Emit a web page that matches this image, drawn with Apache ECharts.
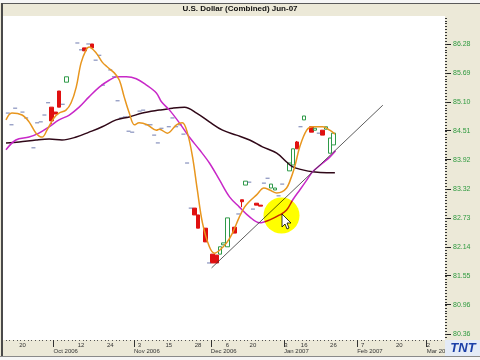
<!DOCTYPE html>
<html>
<head>
<meta charset="utf-8">
<script src="https://cdn.jsdelivr.net/npm/echarts@6/dist/echarts.min.js"></script>
<style>html,body{margin:0;padding:0;background:#fff}#c{width:480px;height:360px}</style>
</head>
<body>
<div id="c"></div>
<script>
// ---- data (trading-day slots) ----
const slotCount = 120;
const dayTickSlots = [4, 20, 28, 36, 44, 52, 60, 67, 76, 81, 89, 97, 107, 115];
const dayTickLabels = ['20', '12', '24', '3', '15', '28', '6', '20', '3', '16', '26', '7', '20', '2'];
const monthStartSlots = [13, 35, 56, 76, 96, 115];
const monthLabels = ['Oct 2006', 'Nov 2006', 'Dec 2006', 'Jan 2007', 'Feb 2007', 'Mar 2007'];
const yTickLabels = [80.36, 80.96, 81.55, 82.14, 82.73, 83.32, 83.92, 84.51, 85.10, 85.69, 86.28];

const candleSlots = [12, 13, 14, 16, 21, 23, 51, 52, 54, 56, 57, 58, 59, 60, 62, 64, 65, 68, 69, 72, 73, 77, 78, 79, 81, 83, 84, 86, 87, 88, 89];
const candleOpen  = [84.99, 84.89, 85.32, 85.50, 86.20, 86.28, 82.93, 82.79, 82.52, 81.99, 81.97, 81.99, 82.18, 82.14, 82.54, 83.10, 83.40, 83.03, 82.99, 83.34, 83.30, 83.69, 83.81, 84.28, 84.73, 84.59, 84.52, 84.52, 84.54, 84.05, 84.22];
const candleClose = [84.71, 84.85, 84.99, 85.61, 86.14, 86.20, 82.79, 82.52, 82.24, 81.81, 81.81, 82.14, 82.22, 82.73, 82.42, 83.06, 83.48, 82.99, 82.97, 83.42, 83.34, 83.85, 84.14, 84.14, 84.81, 84.48, 84.56, 84.42, 84.59, 84.36, 84.46];
const candleLow   = [84.65, 84.85, 84.99, 85.50, 86.14, 86.20, 82.79, 82.52, 82.24, 81.81, 81.81, 81.99, 82.18, 82.14, 82.42, 82.95, 83.40, 82.99, 82.97, 83.34, 83.30, 83.69, 83.81, 84.14, 84.73, 84.48, 84.52, 84.42, 84.54, 84.05, 84.22];
const candleHigh  = [84.99, 84.89, 85.32, 85.61, 86.20, 86.28, 82.93, 82.79, 82.52, 81.99, 81.97, 82.14, 82.22, 82.73, 82.54, 83.10, 83.48, 83.03, 82.99, 83.42, 83.34, 83.85, 84.14, 84.30, 84.81, 84.59, 84.56, 84.52, 84.59, 84.36, 84.46];

const dojiSlots  = [0, 1, 2, 4, 5, 7, 8, 9, 10, 11, 15, 19, 20, 22, 24, 25, 26, 28, 29, 30, 31, 32, 33, 34, 36, 37, 38, 39, 40, 41, 42, 44, 45, 46, 47, 48, 49, 50, 55, 63, 66, 67, 70, 71, 74, 75, 80, 85];
const dojiValues = [84.87, 84.63, 84.97, 84.89, 84.77, 84.16, 84.67, 84.69, 84.83, 85.08, 85.05, 86.30, 86.16, 86.28, 85.95, 86.05, 85.44, 85.75, 85.61, 85.12, 84.77, 84.79, 84.50, 84.48, 84.91, 84.93, 84.63, 84.63, 84.42, 84.26, 84.56, 84.59, 84.77, 84.59, 84.63, 84.44, 83.85, 82.93, 81.81, 82.81, 83.46, 82.91, 83.44, 83.54, 83.18, 83.42, 84.59, 84.46];

const fastSlots  = [-0.5, 1.1, 3.9, 5.8, 7.7, 9.4, 10.7, 12.6, 14.0, 15.9, 17.3, 18.7, 20.0, 21.4, 22.2, 24.2, 25.8, 27.2, 29.1, 30.5, 31.8, 33.2, 34.6, 35.9, 38.1, 40.6, 41.4, 43.6, 46.1, 47.7, 49.1, 50.5, 51.8, 53.2, 55.1, 56.5, 57.9, 59.8, 61.4, 63.3, 64.7, 66.1, 68.0, 70.0, 71.6, 73.5, 74.9, 76.2, 77.0, 78.4, 79.8, 81.7, 83.3, 86.1, 88.0, 89.4];
const fastValues = [84.73, 84.87, 84.83, 84.69, 84.46, 84.38, 84.52, 84.77, 84.87, 84.93, 85.08, 85.40, 85.89, 86.16, 86.22, 86.09, 85.91, 85.81, 85.69, 85.54, 85.20, 84.87, 84.63, 84.67, 84.63, 84.52, 84.54, 84.46, 84.63, 84.67, 84.46, 83.97, 83.30, 82.63, 82.14, 82.01, 82.07, 82.22, 82.42, 82.75, 82.95, 83.07, 83.20, 83.34, 83.30, 83.24, 83.26, 83.34, 83.46, 83.77, 84.18, 84.52, 84.59, 84.59, 84.52, 84.44];

const midSlots  = [-0.5, 2.2, 5.8, 8.5, 11.3, 14.0, 16.8, 19.5, 22.2, 25.0, 27.7, 29.9, 32.4, 35.1, 37.9, 40.6, 42.0, 44.2, 46.9, 49.6, 52.4, 55.1, 57.9, 60.6, 63.3, 66.1, 68.8, 71.6, 74.3, 76.2, 77.9, 79.8, 81.7, 83.3, 86.1, 88.0, 89.6];
const midValues = [84.12, 84.32, 84.38, 84.46, 84.59, 84.73, 84.83, 84.99, 85.20, 85.40, 85.54, 85.61, 85.61, 85.57, 85.44, 85.28, 85.10, 84.93, 84.67, 84.38, 84.12, 83.85, 83.50, 83.16, 82.95, 82.75, 82.63, 82.69, 82.79, 82.89, 83.10, 83.30, 83.50, 83.67, 83.85, 83.97, 84.10];

const slowSlots  = [-0.5, 3.1, 7.7, 11.3, 14.8, 18.7, 22.2, 25.8, 29.6, 33.2, 36.8, 41.4, 45.0, 48.3, 51.6, 55.1, 58.7, 62.5, 66.1, 69.6, 73.5, 76.2, 77.9, 80.6, 83.3, 87.2, 89.4];
const slowValues = [84.26, 84.28, 84.32, 84.34, 84.32, 84.38, 84.48, 84.59, 84.73, 84.79, 84.87, 84.93, 84.97, 84.99, 84.87, 84.69, 84.52, 84.42, 84.32, 84.18, 84.05, 83.87, 83.77, 83.71, 83.67, 83.65, 83.65];

const trendSlots  = [55.7, 102.5];
const trendValues = [81.71, 85.03];

// ---- build ----
const yMin = 80.2375, yMax = 86.851;
const minorStep = (yTickLabels[yTickLabels.length - 1] - yTickLabels[0]) / ((yTickLabels.length - 1) * 10);
const minorTicks = [];
for (let v = yTickLabels[0] - 2 * minorStep; v <= yMax; v += minorStep) minorTicks.push(v);

const categories = Array.from({length: slotCount}, (_, i) => String(i));
const candleData = categories.map(() => '-');
candleSlots.forEach((s, i) => { candleData[s] = [candleOpen[i], candleClose[i], candleLow[i], candleHigh[i]]; });
const pair = (xs, ys) => xs.map((x, i) => [x, ys[i]]);
const monthTickPos = monthStartSlots.map(s => s - 0.5);

const font = 'Liberation Sans';
const gridRect = {left: 6, right: 35, top: 16, bottom: 20};
const noZeroLine = {show: false, onZero: false};

const chart = echarts.init(document.getElementById('c'), null, {renderer: 'canvas'});
chart.setOption({
  animation: false,
  backgroundColor: '#ECE9D8',
  title: {
    text: 'U.S. Dollar (Combined) Jun-07', left: 'center', top: 5, padding: [0, 0, 0, 6],
    textStyle: {fontSize: 8, fontWeight: 'bold', color: '#111', fontFamily: font}
  },
  grid: [
    Object.assign({show: true, backgroundColor: '#ffffff', borderWidth: 0}, gridRect),
    Object.assign({show: false}, gridRect),
    Object.assign({show: false}, gridRect)
  ],
  xAxis: [
    {type: 'category', gridIndex: 0, position: 'bottom', data: categories, boundaryGap: true, axisLine: noZeroLine,
     axisTick: {show: true, interval: 0, length: 1, lineStyle: {color: '#555'}},
     axisLabel: {show: false}, splitLine: {show: false}},
    {type: 'value', gridIndex: 1, position: 'bottom', min: -0.5, max: slotCount - 0.5, axisLine: noZeroLine, axisTick: {show: false}, splitLine: {show: false},
     axisLabel: {customValues: dayTickSlots, formatter: v => dayTickLabels[dayTickSlots.indexOf(v)],
                 fontSize: 6, color: '#333', margin: 2, fontFamily: font}},
    {type: 'value', gridIndex: 2, position: 'bottom', min: -0.5, max: slotCount - 0.5, axisLine: noZeroLine, splitLine: {show: false},
     axisTick: {show: true, customValues: monthTickPos, length: 7, lineStyle: {color: '#333'}},
     axisLabel: {customValues: monthTickPos, formatter: v => monthLabels[monthTickPos.indexOf(v)],
                 align: 'left', fontSize: 6, color: '#333', margin: 8, fontFamily: font}}
  ],
  yAxis: [
    {type: 'value', gridIndex: 0, position: 'right', min: yMin, max: yMax, splitLine: {show: false}, axisLine: noZeroLine,
     axisTick: {show: true, customValues: yTickLabels, length: 6, lineStyle: {color: '#222'}},
     axisLabel: {customValues: yTickLabels, formatter: v => v.toFixed(2), color: '#2f9a3f', fontSize: 7, margin: 8, fontFamily: font}},
    {type: 'value', gridIndex: 1, position: 'right', min: yMin, max: yMax, splitLine: {show: false}, axisLine: noZeroLine,
     axisTick: {show: true, customValues: minorTicks, length: 2, lineStyle: {color: '#333'}},
     axisLabel: {show: false}},
    {type: 'value', gridIndex: 2, position: 'right', min: yMin, max: yMax, splitLine: {show: false}, axisLine: noZeroLine,
     axisTick: {show: false}, axisLabel: {show: false}}
  ],
  series: [
    {type: 'candlestick', xAxisIndex: 0, yAxisIndex: 0, data: candleData, barWidth: 4, z: 2,
     itemStyle: {color: '#ffffff', color0: '#e01010', borderColor: '#2e9a48', borderColor0: '#e01010', borderWidth: 1}},
    {type: 'scatter', xAxisIndex: 1, yAxisIndex: 1, data: pair(dojiSlots, dojiValues), symbol: 'rect', symbolSize: [4, 1], z: 3,
     itemStyle: {color: '#4b5a9c'}},
    {type: 'line', xAxisIndex: 1, yAxisIndex: 1, data: pair(slowSlots, slowValues), smooth: 0.35, showSymbol: false, z: 4,
     lineStyle: {color: '#300818', width: 1.5}},
    {type: 'line', xAxisIndex: 1, yAxisIndex: 1, data: pair(midSlots, midValues), smooth: 0.35, showSymbol: false, z: 4,
     lineStyle: {color: '#c828c8', width: 1.5}},
    {type: 'line', xAxisIndex: 1, yAxisIndex: 1, data: pair(fastSlots, fastValues), smooth: 0.35, showSymbol: false, z: 5,
     lineStyle: {color: '#e8961e', width: 1.5}},
    {type: 'line', xAxisIndex: 1, yAxisIndex: 1, data: pair(trendSlots, trendValues), showSymbol: false, z: 6,
     lineStyle: {color: '#333', width: 0.8}}
  ],
  graphic: [
    {type: 'rect', shape: {x: 0, y: 0, width: 480, height: 3}, style: {fill: '#f6f6f6'}},
    {type: 'rect', shape: {x: 1, y: 3, width: 479, height: 1}, style: {fill: '#5a5a5a'}},
    {type: 'rect', shape: {x: 1, y: 3, width: 2, height: 354}, style: {fill: '#4a4a4a'}},
    {type: 'rect', shape: {x: 3, y: 16, width: 3, height: 324}, style: {fill: '#ffffff'}},
    {type: 'rect', shape: {x: 0, y: 356, width: 480, height: 4}, style: {fill: '#f6f6f6'}},
    {type: 'rect', shape: {x: 0, y: 356, width: 480, height: 1}, style: {fill: '#8a8a8a'}},
    {type: 'group', x: 445, y: 340, z: 100, children: [
      {type: 'rect', shape: {x: 0, y: 0, width: 35, height: 16}, style: {fill: '#e4ebf7'}, z: 100},
      {type: 'text', x: 18, y: 8, z: 101, style: {text: 'TNT', fill: '#1c40a8', font: 'italic bold 13px Liberation Sans', align: 'center', verticalAlign: 'middle'}}
    ]},
    {type: 'circle', shape: {cx: 281.5, cy: 215.5, r: 18}, z: 100, style: {fill: '#ffff00', blend: 'multiply'}},
    {type: 'polygon', z: 101, shape: {points: [[282, 214], [282, 227], [285, 224], [287, 229], [289, 228], [287, 223], [291, 223]]},
     style: {fill: '#ffffff', stroke: '#000', lineWidth: 0.8}}
  ]
});
</script>
</body>
</html>
